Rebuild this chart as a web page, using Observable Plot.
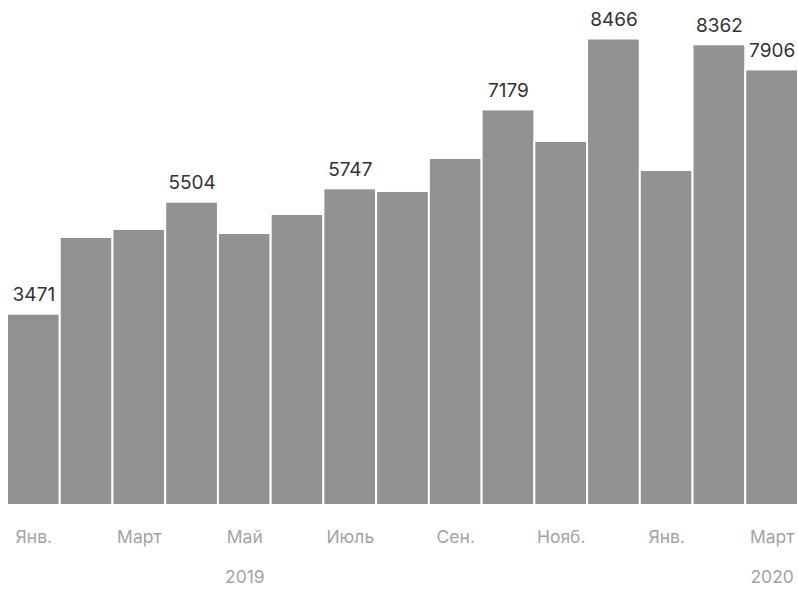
<!DOCTYPE html>
<html>
<head>
<meta charset="utf-8">
<script src="https://cdn.jsdelivr.net/npm/d3@7"></script>
<script src="https://cdn.jsdelivr.net/npm/@observablehq/plot@0.6"></script>
<style>
  html, body { margin: 0; padding: 0; background: #fff; }
  #chart svg { display: block; }
</style>
</head>
<body>
<div id="chart"></div>
<script>
const months = ["2019-01","2019-02","2019-03","2019-04","2019-05","2019-06","2019-07","2019-08","2019-09","2019-10","2019-11","2019-12","2020-01","2020-02","2020-03"];
const values = [3471, 4864, 5009, 5504, 4936, 5281, 5747, 5699, 6298, 7179, 6606, 8466, 6080, 8362, 7906];
const shownLabels = ["3471", null, null, "5504", null, null, "5747", null, null, "7179", null, "8466", null, "8362", "7906"];
const tickLabels = {"2019-01":"Янв.","2019-03":"Март","2019-05":"Май","2019-07":"Июль","2019-09":"Сен.","2019-11":"Нояб.","2020-01":"Янв.","2020-03":"Март"};
const yearLabels = {"2019-05": "2019", "2020-03": "2020"};

const data = months.map((m, i) => ({month: m, value: values[i], label: shownLabels[i]}));

const chart = Plot.plot({
  width: 798,
  height: 589,
  marginLeft: 7,
  marginRight: 0,
  marginTop: 0,
  marginBottom: 84,
  style: {fontFamily: "Inter, 'Open Sans', sans-serif", background: "#fff"},
  x: {type: "band", domain: months, padding: 0, round: false, label: null},
  y: {domain: [0, 9165], axis: null},
  marks: [
    Plot.barY(data, {x: "month", y: "value", fill: "#929292", stroke: "#fff", strokeWidth: 2}),
    Plot.text(data.filter(d => d.label), {x: "month", y: "value", text: "label", dy: -19, fontSize: 19, fill: "#333"}),
    Plot.axisX({ticks: Object.keys(tickLabels), tickFormat: d => tickLabels[d], tickSize: 0, tickPadding: 25, fontSize: 17.5, color: "#a3a3a3", label: null}),
    Plot.axisX({ticks: Object.keys(yearLabels), tickFormat: d => yearLabels[d], tickSize: 0, tickPadding: 65, fontSize: 17.5, color: "#a3a3a3", label: null})
  ]
});
document.getElementById("chart").append(chart);
</script>
</body>
</html>
